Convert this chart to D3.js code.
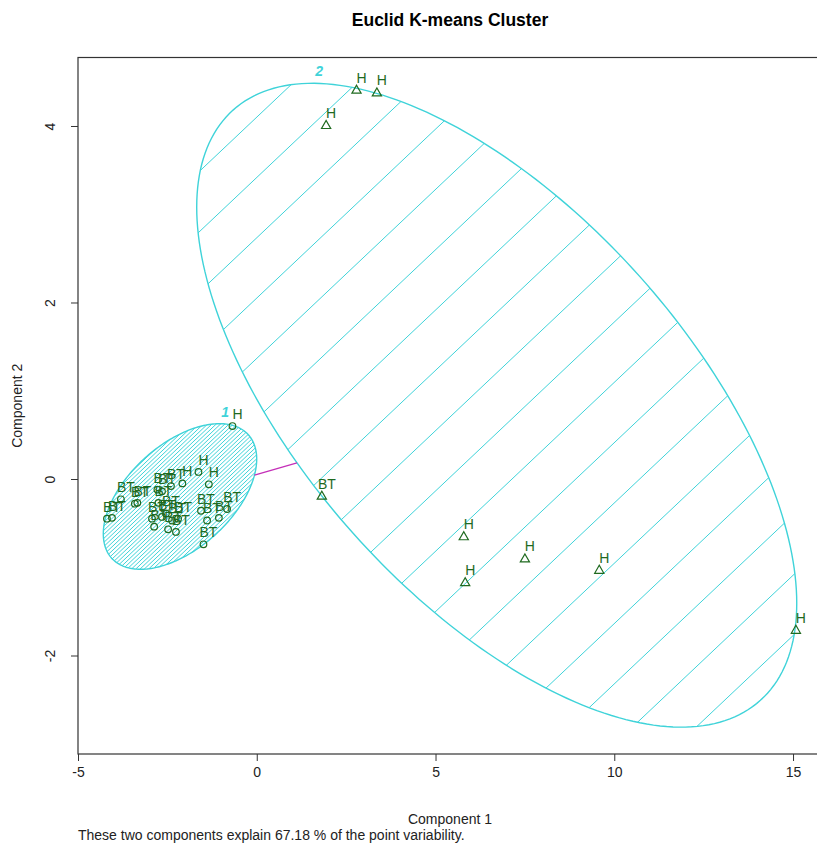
<!DOCTYPE html>
<html>
<head>
<meta charset="utf-8">
<script src="https://cdn.jsdelivr.net/npm/d3@7"></script>
<style>
  html, body { margin: 0; padding: 0; background: #ffffff; }
  svg text { font-family: "Liberation Sans", Arial, Helvetica, sans-serif; }
</style>
</head>
<body>
<svg id="chart" width="817" height="845"></svg>
<script>
// Observation scores on the first two principal components
const pointX = [
  -0.68, -1.63, -1.34, -2.08, -2.40, -2.78, -2.65, -3.80, -3.41, -3.34,
  -4.19, -4.05, -1.56, -0.83, -1.39, -1.06, -1.49, -2.93, -2.87, -2.75,
  -2.54, -2.37, -2.48, -2.26, -2.20, -2.65,
  2.79, 3.36, 1.94, 1.82, 5.79, 5.83, 7.50, 9.58, 15.08
];
const pointY = [
  0.60, 0.08, -0.06, -0.05, -0.08, -0.12, -0.14, -0.23, -0.28, -0.27,
  -0.45, -0.44, -0.36, -0.34, -0.47, -0.44, -0.74, -0.45, -0.54, -0.27,
  -0.39, -0.47, -0.57, -0.60, -0.45, -0.43,
  4.41, 4.38, 4.01, -0.19, -0.65, -1.17, -0.90, -1.03, -1.71
];
const pointLabel = [
  "H", "H", "H", "H", "BT", "BT", "BT", "BT", "BT", "BT",
  "BT", "BT", "BT", "BT", "BT", "BT", "BT", "BT", "BT", "BT",
  "BT", "BT", "BT", "BT", "BT", "BT",
  "H", "H", "H", "BT", "H", "H", "H", "H", "H"
];
const pointCluster = [
  1, 1, 1, 1, 1, 1, 1, 1, 1, 1,
  1, 1, 1, 1, 1, 1, 1, 1, 1, 1,
  1, 1, 1, 1, 1, 1,
  2, 2, 2, 2, 2, 2, 2, 2, 2
];

// Spanning ellipses of the clusters: centre and shape matrix (xx, xy, yy)
const clusterIds = [1, 2];
const ellipseCenterX = [-2.147, 6.712];
const ellipseCenterY = [-0.198, 0.836];
const ellipseShapeXX = [4.603, 70.42];
const ellipseShapeXY = [0.9097, -18.827];
const ellipseShapeYY = [0.6805, 13.305];

const xTicks = [-5, 0, 5, 10, 15];
const yTicks = [-2, 0, 2, 4];

const titleText = "Euclid K-means Cluster";
const xTitle = "Component 1";
const yTitle = "Component 2";
const subText = "These two components explain 67.18 % of the point variability.";

// ---- styling ----
const clusCol = "#3fd3d9";
const lineCol = "#c42fb8";
const pointCol = "#1f6a1f";
const hatchStep = { 1: 0.12, 2: 1.785 };   // horizontal gap between shading lines (component-1 units)
const hatchSlope = 0.945;                    // screen slope of shading lines

const svg = d3.select("#chart");

const x = d3.scaleLinear().domain([-5, 15.81]).range([78, 822]);
const y = d3.scaleLinear().domain([-3.116, 4.776]).range([754, 57.5]);

// Ellipse outline in component units -> screen
function ellipsePoints(i, n = 240) {
  const l11 = Math.sqrt(ellipseShapeXX[i]);
  const l21 = ellipseShapeXY[i] / l11;
  const l22 = Math.sqrt(ellipseShapeYY[i] - l21 * l21);
  const pts = [];
  for (let k = 0; k < n; k++) {
    const t = 2 * Math.PI * k / n;
    const dx = l11 * Math.cos(t);
    const dy = l21 * Math.cos(t) + l22 * Math.sin(t);
    pts.push([x(ellipseCenterX[i] + dx), y(ellipseCenterY[i] + dy)]);
  }
  return pts;
}

const defs = svg.append("defs");
const line = d3.line().curve(d3.curveLinearClosed);

const gShade = svg.append("g");
clusterIds.forEach((id, i) => {
  const pts = ellipsePoints(i);
  const clipId = "clip-ell-" + id;
  defs.append("clipPath").attr("id", clipId)
    .append("path").attr("d", line(pts));

  // shading lines pass through (k * step, 0) like base-graphics hatching
  const xs = pts.map(p => p[0]);
  const minX = d3.min(xs), maxX = d3.max(xs);
  const ys = pts.map(p => p[1]);
  const minY = d3.min(ys), maxY = d3.max(ys);
  const y0 = y(0);
  const step = hatchStep[id];
  const kMin = Math.floor(x.invert(minX - (maxY - minY)) / step) - 2;
  const kMax = Math.ceil(x.invert(maxX + (maxY - minY)) / step) + 2;
  const g = gShade.append("g").attr("clip-path", `url(#${clipId})`);
  for (let k = kMin; k <= kMax; k++) {
    const px = x(k * step);
    const L = 1200;
    g.append("line")
      .attr("x1", px - L).attr("y1", y0 + hatchSlope * L)
      .attr("x2", px + L).attr("y2", y0 - hatchSlope * L)
      .attr("stroke", clusCol).attr("stroke-width", 1);
  }
  gShade.append("path").attr("d", line(pts))
    .attr("fill", "none").attr("stroke", clusCol).attr("stroke-width", 1.4);

  // cluster number just above the top of its ellipse
  const top = pts.reduce((a, b) => (b[1] < a[1] ? b : a));
  svg.append("text")
    .attr("x", top[0] + 5).attr("y", top[1] - 7)
    .attr("text-anchor", "middle")
    .attr("font-size", 14).attr("font-style", "italic").attr("font-weight", "bold")
    .attr("fill", clusCol).text(id);
});

// segment joining the two ellipses along the line of centres
(function () {
  const c1 = [ellipseCenterX[0], ellipseCenterY[0]];
  const c2 = [ellipseCenterX[1], ellipseCenterY[1]];
  const d = [c2[0] - c1[0], c2[1] - c1[1]];
  function reach(i) {
    const a = ellipseShapeXX[i], b = ellipseShapeXY[i], c = ellipseShapeYY[i];
    const det = a * c - b * b;
    const q = (c * d[0] * d[0] - 2 * b * d[0] * d[1] + a * d[1] * d[1]) / det;
    return 1 / Math.sqrt(q);
  }
  const t1 = reach(0), t2 = reach(1);
  svg.append("line")
    .attr("x1", x(c1[0] + t1 * d[0])).attr("y1", y(c1[1] + t1 * d[1]))
    .attr("x2", x(c2[0] - t2 * d[0])).attr("y2", y(c2[1] - t2 * d[1]))
    .attr("stroke", lineCol).attr("stroke-width", 1.3);
})();

// points: circles for cluster 1, triangles for cluster 2
const gPts = svg.append("g");
pointX.forEach((v, i) => {
  const px = x(v), py = y(pointY[i]);
  if (pointCluster[i] === 1) {
    gPts.append("circle").attr("cx", px).attr("cy", py).attr("r", 3.3)
      .attr("fill", "none").attr("stroke", pointCol).attr("stroke-width", 1.2);
  } else {
    gPts.append("path")
      .attr("d", `M${px - 4.6},${py + 3.4}L${px + 4.6},${py + 3.4}L${px},${py - 4.6}Z`)
      .attr("fill", "none").attr("stroke", pointCol).attr("stroke-width", 1.2);
  }
});
pointX.forEach((v, i) => {
  gPts.append("text")
    .attr("x", x(v) + 5).attr("y", y(pointY[i]) - 7)
    .attr("text-anchor", "middle").attr("font-size", 14)
    .attr("fill", pointCol).text(pointLabel[i]);
});

// plot frame
svg.append("rect")
  .attr("x", x(-5)).attr("y", y(4.776))
  .attr("width", x(15.81) - x(-5)).attr("height", y(-3.116) - y(4.776))
  .attr("fill", "none").attr("stroke", "#333").attr("stroke-width", 1.2);

// axes
const xAxis = d3.axisBottom(x).tickValues(xTicks).tickSize(7).tickPadding(6)
  .tickFormat(d => d);
const gx = svg.append("g").attr("transform", `translate(0,${y(-3.116)})`).call(xAxis);
gx.select(".domain").remove();
gx.selectAll("line").attr("stroke", "#333");
gx.selectAll("text").attr("font-size", 14).attr("fill", "#222")
  .attr("font-family", "'Liberation Sans', Arial, sans-serif");

const yAxis = d3.axisLeft(y).tickValues(yTicks).tickSize(7).tickFormat(d => d);
const gy = svg.append("g").attr("transform", `translate(${x(-5)},0)`).call(yAxis);
gy.select(".domain").remove();
gy.selectAll("line").attr("stroke", "#333");
gy.selectAll("text")
  .attr("font-size", 14).attr("fill", "#222")
  .attr("font-family", "'Liberation Sans', Arial, sans-serif")
  .attr("x", null).attr("dy", null)
  .attr("text-anchor", "middle")
  .attr("transform", "translate(-23,0) rotate(-90)");

// titles
svg.append("text").attr("x", 450).attr("y", 26).attr("text-anchor", "middle")
  .attr("font-size", 17.5).attr("font-weight", "bold").attr("fill", "#000").text(titleText);
svg.append("text").attr("x", 450).attr("y", 824).attr("text-anchor", "middle")
  .attr("font-size", 14).attr("fill", "#222").text(xTitle);
svg.append("text").attr("transform", `translate(22,${(y(4.776) + y(-3.116)) / 2}) rotate(-90)`)
  .attr("text-anchor", "middle").attr("font-size", 14).attr("fill", "#222").text(yTitle);
svg.append("text").attr("x", 78).attr("y", 840).attr("text-anchor", "start")
  .attr("font-size", 14).attr("fill", "#222").text(subText);
</script>
</body>
</html>
